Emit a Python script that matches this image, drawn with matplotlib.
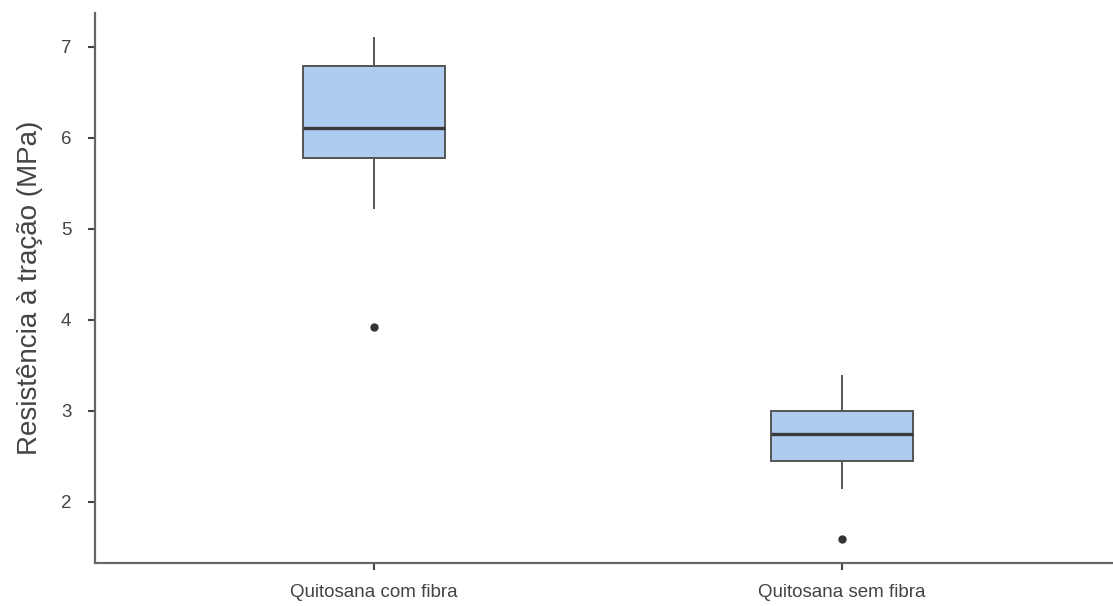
import matplotlib
matplotlib.use("Agg")
import matplotlib.pyplot as plt

# values
groups = ["Quitosana com fibra", "Quitosana sem fibra"]
whislo = [5.23, 2.15]
q1 = [5.78, 2.45]
med = [6.11, 2.75]
q3 = [6.79, 3.00]
whishi = [7.10, 3.38]
outliers = [[3.92], [1.59]]
yticks = [2, 3, 4, 5, 6, 7]

plt.rcParams['font.family'] = ['Liberation Sans', 'DejaVu Sans']

stats = []
for i in range(len(groups)):
    stats.append(dict(label=groups[i], whislo=whislo[i], q1=q1[i], med=med[i],
                      q3=q3[i], whishi=whishi[i], fliers=outliers[i]))

fig = plt.figure(figsize=(11.13, 6.06), dpi=100)
ax = fig.add_axes([95/1113, 43/606, 1018/1113, 550/606])

edge = "#555555"
ax.bxp(stats, positions=[1, 2], widths=0.304, patch_artist=True, showcaps=False,
       boxprops=dict(facecolor="#aecbf0", edgecolor=edge, linewidth=1.4),
       medianprops=dict(color="#3a3a3a", linewidth=2.4),
       whiskerprops=dict(color=edge, linewidth=1.4),
       flierprops=dict(marker='o', markerfacecolor="#333333", markeredgecolor="#333333",
                       markersize=5))

ax.set_xlim(0.403, 2.58)
ax.set_ylim(1.33, 7.37)
ax.set_yticks(yticks)
ax.set_ylabel("Resistência à tração (MPa)", fontsize=20, color="#444444", labelpad=13)

for s in ["top", "right"]:
    ax.spines[s].set_visible(False)
for s in ["left", "bottom"]:
    ax.spines[s].set_color("#666666")
    ax.spines[s].set_linewidth(1.6)
ax.tick_params(axis="both", colors="#444444", labelsize=13.5, length=5, width=1.5)
ax.tick_params(axis="x", pad=10)
ax.tick_params(axis="y", pad=12)

fig.savefig("out.png", dpi=100)
